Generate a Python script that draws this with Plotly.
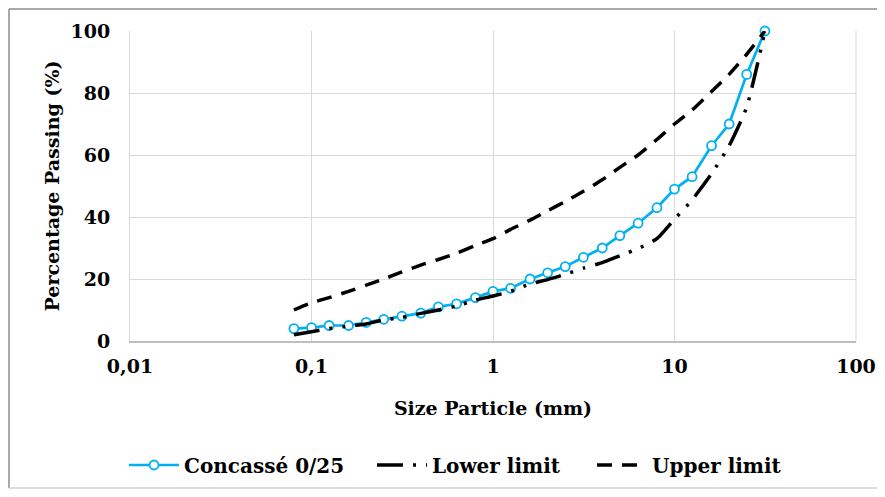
import plotly.graph_objects as go

sizes = [0.08, 0.1, 0.125, 0.16, 0.2, 0.25, 0.315, 0.4, 0.5, 0.63, 0.8, 1, 1.25, 1.6,
         2, 2.5, 3.15, 4, 5, 6.3, 8, 10, 12.5, 16, 20, 25, 31.5]
concasse = [4, 4.3, 5, 5, 6, 7, 8, 9, 11, 12, 14, 16, 17, 20,
            22, 24, 27, 30, 34, 38, 43, 49, 53, 63, 70, 86, 100]
lower_limit = [2, 3, 4, 4.8, 5.5, 6.8, 7.6, 8.9, 10, 11.3, 13.2, 14.5, 16, 18.4,
               19.8, 21.5, 23.5, 25.3, 27.5, 29.8, 33, 39.3, 45.5, 54, 63, 75.5, 100]
upper_limit = [10, 12.3, 14, 16, 18, 20, 22.3, 24.5, 26.3, 28.3, 30.8, 33, 36, 39,
               42, 45, 48.3, 52, 56, 60, 65, 70, 74.5, 80.5, 86, 92.5, 100]

x_tickvals = [0.01, 0.1, 1, 10, 100]
x_ticktext = ["0,01", "0,1", "1", "10", "100"]
y_tickvals = [0, 20, 40, 60, 80, 100]

FONT = "DejaVu Serif"
# page body has an 8px margin; figure sized to fit the 885x497 window
W, H = 869, 481
ML, MR, MT, MB = 122, 21, 23, 148
PW, PH = W - ML - MR, H - MT - MB
OFF = 8  # window offset of the figure


def px_to_paper_x(px):
    return (px - OFF - ML) / PW


fig = go.Figure()
fig.add_trace(go.Scatter(
    x=sizes, y=concasse, name="Concassé 0/25", mode="lines+markers",
    line=dict(color="#00b0f0", width=2.7),
    marker=dict(symbol="circle", size=9, color="white",
                line=dict(color="#00b0f0", width=1.8)),
    cliponaxis=False, legend="legend",
))
fig.add_trace(go.Scatter(
    x=sizes, y=lower_limit, name="Lower limit", mode="lines",
    line=dict(color="black", width=3.5, dash="26px,10px,3px,10px,3px,10px",
              shape="spline", smoothing=0.5),
    cliponaxis=False, legend="legend2",
))
fig.add_trace(go.Scatter(
    x=sizes, y=upper_limit, name="Upper limit", mode="lines",
    line=dict(color="black", width=3.5, dash="15px,10px", shape="spline", smoothing=0.5),
    cliponaxis=False, legend="legend3",
))

# outer frame (left, top, bottom edges of the figure)
fx0 = (1 - ML) / PW
fy1 = (H - MB - 1) / PH
fy0 = (H - MB - (H - 1)) / PH
fig.add_shape(type="line", xref="paper", yref="paper", x0=fx0, x1=fx0, y0=fy0, y1=fy1,
              line=dict(color="#8c8c8c", width=1.5))
fig.add_shape(type="line", xref="paper", yref="paper", x0=fx0, x1=(W - ML) / PW, y0=fy1, y1=fy1,
              line=dict(color="#8c8c8c", width=1.5))
fig.add_shape(type="line", xref="paper", yref="paper", x0=fx0, x1=(W - ML) / PW, y0=fy0, y1=fy0,
              line=dict(color="#d0d0d0", width=1.5))
fig.add_shape(type="line", xref="paper", yref="paper", x0=1, x1=1, y0=0, y1=1,
              line=dict(color="#d9d9d9", width=1), layer="below")

legend_common = dict(orientation="h", xanchor="left", y=-0.40, yanchor="middle",
                     font=dict(family=FONT, size=20, color="black", weight="bold"),
                     bgcolor="rgba(0,0,0,0)", itemwidth=50)

fig.update_layout(
    width=W, height=H,
    margin=dict(l=ML, r=MR, t=MT, b=MB, autoexpand=False),
    paper_bgcolor="white", plot_bgcolor="white",
    font=dict(family=FONT, size=19, color="black", weight="bold"),
    showlegend=True,
    legend=dict(x=px_to_paper_x(124), **legend_common),
    legend2=dict(x=px_to_paper_x(372), **legend_common),
    legend3=dict(x=px_to_paper_x(592), **legend_common),
    xaxis=dict(type="log", range=[-2, 2], tickvals=x_tickvals, ticktext=x_ticktext,
               showgrid=True, gridcolor="#d9d9d9", gridwidth=1,
               showline=True, linecolor="#bfbfbf", linewidth=1.5,
               ticks="", ticklabelstandoff=7, zeroline=False,
               title=dict(text="Size Particle (mm)", standoff=26,
                          font=dict(family=FONT, size=19, weight="bold"))),
    yaxis=dict(range=[0, 100], tickvals=y_tickvals,
               showgrid=True, gridcolor="#d9d9d9", gridwidth=1,
               showline=True, linecolor="#d9d9d9", linewidth=1,
               ticks="", ticklabelstandoff=15, zeroline=False,
               title=dict(text="Percentage Passing (%)", standoff=5,
                          font=dict(family=FONT, size=19, weight="bold"))),
)

fig.write_html("out.html")
